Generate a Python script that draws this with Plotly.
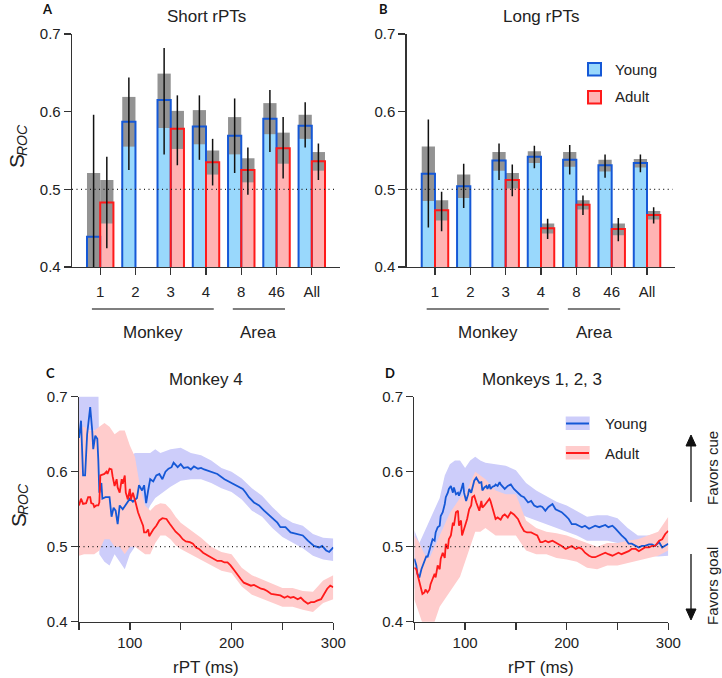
import plotly.graph_objects as go

W, H = 722, 678

# ---------------- DATA ----------------
CATS = ["1", "2", "3", "4", "8", "46", "All"]

# Panel A : Short rPTs
A_young_mean = [0.439, 0.587, 0.615, 0.581, 0.569, 0.591, 0.582]
A_young_sem_lo = [0.357, 0.555, 0.579, 0.558, 0.545, 0.571, 0.565]
A_young_sem_hi = [0.521, 0.619, 0.649, 0.602, 0.593, 0.611, 0.596]
A_young_ci_lo = [0.282, 0.525, 0.545, 0.538, 0.521, 0.548, 0.554]
A_young_ci_hi = [0.596, 0.644, 0.682, 0.621, 0.617, 0.628, 0.612]
A_adult_mean = [0.483, None, 0.578, 0.535, 0.525, 0.553, 0.536]
A_adult_sem_lo = [0.456, None, 0.552, 0.519, 0.509, 0.533, 0.524]
A_adult_sem_hi = [0.512, None, 0.601, 0.550, 0.540, 0.573, 0.548]
A_adult_ci_lo = [0.424, None, 0.531, 0.505, 0.493, 0.514, 0.512]
A_adult_ci_hi = [0.542, None, 0.621, 0.565, 0.554, 0.593, 0.559]

# Panel B : Long rPTs
B_young_mean = [0.520, 0.504, 0.537, 0.542, 0.538, 0.531, 0.534]
B_young_sem_lo = [0.485, 0.489, 0.524, 0.534, 0.529, 0.523, 0.528]
B_young_sem_hi = [0.555, 0.519, 0.548, 0.549, 0.548, 0.538, 0.539]
B_young_ci_lo = [0.451, 0.476, 0.512, 0.527, 0.519, 0.515, 0.522]
B_young_ci_hi = [0.590, 0.533, 0.559, 0.556, 0.557, 0.545, 0.545]
B_adult_mean = [0.473, None, 0.512, 0.450, 0.480, 0.449, 0.467]
B_adult_sem_lo = [0.460, None, 0.501, 0.443, 0.474, 0.441, 0.461]
B_adult_sem_hi = [0.486, None, 0.521, 0.456, 0.486, 0.456, 0.472]
B_adult_ci_lo = [0.446, None, 0.491, 0.436, 0.467, 0.433, 0.456]
B_adult_ci_hi = [0.497, None, 0.532, 0.462, 0.492, 0.463, 0.477]

# Panel C : Monkey 4 (rPT in ms, S_ROC)
C_young_x = [50, 52, 54, 56, 58, 60, 61, 63, 64, 66, 68, 69, 70, 72, 73, 76, 80, 82, 84, 86, 88, 90, 93, 96,
             100, 103, 107, 109, 112, 114, 116, 118, 120, 123, 126, 129, 132, 135, 138, 141, 143, 147, 150,
             153, 157, 160, 163, 167, 170, 173, 180, 186, 193, 199, 206, 211, 214, 217, 222, 227, 232, 239,
             245, 248, 253, 258, 265, 270, 275, 281, 286, 289, 293, 296, 300]
C_young_y = [0.645, 0.668, 0.595, 0.595, 0.650, 0.670, 0.686, 0.655, 0.630, 0.648, 0.644, 0.615, 0.572, 0.585,
             0.564, 0.566, 0.566, 0.540, 0.552, 0.548, 0.530, 0.555, 0.550, 0.556, 0.564, 0.560, 0.565, 0.582,
             0.575, 0.582, 0.558, 0.575, 0.590, 0.587, 0.595, 0.597, 0.590, 0.600, 0.604, 0.606, 0.612, 0.606,
             0.610, 0.605, 0.606, 0.603, 0.607, 0.604, 0.605, 0.603, 0.600, 0.597, 0.590, 0.586, 0.581, 0.577,
             0.572, 0.566, 0.559, 0.555, 0.548, 0.539, 0.532, 0.526, 0.526, 0.519, 0.517, 0.515, 0.508, 0.501,
             0.499, 0.501, 0.495, 0.493, 0.499]
C_adult_x = [50, 52, 54, 57, 59, 61, 62, 64, 65, 67, 69, 70, 71, 74, 75, 77, 78, 80, 82, 83, 85, 87, 88, 90,
             92, 93, 95, 96, 98, 100, 101, 103, 105, 106, 108, 110, 111, 113, 114, 116, 118, 119, 121, 123,
             126, 129, 132, 136, 139, 142, 145, 149, 152, 155, 159, 162, 165, 168, 172, 177, 180, 183, 186,
             190, 193, 196, 199, 203, 206, 209, 212, 216, 219, 222, 226, 229, 232, 235, 239, 242, 245, 248,
             252, 255, 258, 261, 265, 268, 271, 275, 278, 281, 284, 288, 291, 294, 297, 300]
C_adult_y = [0.555, 0.564, 0.557, 0.558, 0.566, 0.566, 0.558, 0.557, 0.553, 0.555, 0.555, 0.559, 0.595, 0.597,
             0.597, 0.600, 0.597, 0.604, 0.603, 0.594, 0.581, 0.590, 0.579, 0.572, 0.590, 0.584, 0.595, 0.572,
             0.563, 0.577, 0.563, 0.572, 0.563, 0.557, 0.546, 0.537, 0.535, 0.528, 0.519, 0.519, 0.523, 0.514,
             0.519, 0.523, 0.528, 0.535, 0.538, 0.537, 0.531, 0.526, 0.520, 0.515, 0.510, 0.507, 0.506, 0.504,
             0.499, 0.497, 0.492, 0.488, 0.486, 0.484, 0.481, 0.481, 0.479, 0.479, 0.475, 0.468, 0.462, 0.457,
             0.452, 0.450, 0.448, 0.449, 0.446, 0.444, 0.443, 0.441, 0.437, 0.436, 0.435, 0.435, 0.432, 0.434,
             0.432, 0.433, 0.430, 0.432, 0.428, 0.424, 0.426, 0.426, 0.428, 0.430, 0.437, 0.444, 0.448, 0.446]
C_young_band_x = [50, 60, 69, 70, 75, 80, 85, 90, 95, 100, 105, 110, 115, 120, 125, 130, 140, 150, 160, 170,
                  180, 190, 200, 210, 220, 230, 240, 250, 260, 270, 280, 290, 300]
C_young_band_lo = [0.655, 0.655, 0.655, 0.490, 0.480, 0.475, 0.490, 0.480, 0.470, 0.490, 0.500, 0.545, 0.540,
                   0.555, 0.565, 0.570, 0.580, 0.588, 0.590, 0.590, 0.585, 0.578, 0.573, 0.563, 0.548, 0.540,
                   0.525, 0.513, 0.505, 0.498, 0.488, 0.483, 0.481]
C_young_band_hi = [0.720, 0.720, 0.720, 0.600, 0.600, 0.600, 0.600, 0.610, 0.610, 0.620, 0.625, 0.625, 0.625,
                   0.625, 0.630, 0.625, 0.630, 0.632, 0.625, 0.622, 0.615, 0.605, 0.600, 0.591, 0.578, 0.568,
                   0.553, 0.540, 0.532, 0.528, 0.517, 0.512, 0.511]
C_adult_band_x = [50, 55, 60, 65, 70, 75, 80, 85, 90, 95, 100, 105, 110, 115, 120, 125, 130, 135, 140, 145,
                  150, 160, 170, 180, 190, 200, 210, 220, 230, 240, 250, 260, 270, 280, 290, 300]
C_adult_band_lo = [0.488, 0.490, 0.490, 0.490, 0.495, 0.510, 0.510, 0.500, 0.500, 0.490, 0.500, 0.500, 0.495,
                   0.490, 0.490, 0.505, 0.515, 0.515, 0.510, 0.502, 0.497, 0.490, 0.482, 0.475, 0.468, 0.465,
                   0.447, 0.436, 0.431, 0.425, 0.420, 0.420, 0.416, 0.413, 0.425, 0.430]
C_adult_band_hi = [0.660, 0.660, 0.655, 0.655, 0.660, 0.665, 0.660, 0.650, 0.655, 0.655, 0.635, 0.620, 0.580,
                   0.555, 0.548, 0.555, 0.558, 0.557, 0.550, 0.540, 0.532, 0.522, 0.512, 0.500, 0.493, 0.490,
                   0.472, 0.462, 0.456, 0.450, 0.445, 0.445, 0.441, 0.440, 0.455, 0.462]

# Panel D : Monkeys 1, 2, 3
D_young_x = [50, 52, 53, 55, 57, 58, 60, 62, 63, 65, 66, 68, 70, 71, 73, 75, 76, 78, 80, 81, 83, 84, 86, 88,
             89, 91, 93, 94, 96, 98, 99, 101, 103, 104, 106, 107, 109, 111, 112, 114, 116, 117, 119, 121, 122,
             124, 125, 127, 129, 130, 132, 134, 135, 139, 142, 145, 148, 152, 155, 158, 162, 165, 168, 171,
             174, 176, 179, 182, 186, 189, 192, 195, 199, 202, 205, 209, 212, 215, 218, 222, 225, 228, 232,
             235, 238, 241, 245, 248, 251, 254, 258, 261, 264, 268, 271, 274, 277, 281, 284, 287, 291, 294,
             297, 300]
D_young_y = [0.484, 0.475, 0.464, 0.459, 0.470, 0.474, 0.479, 0.488, 0.486, 0.497, 0.499, 0.510, 0.508, 0.519,
             0.526, 0.528, 0.541, 0.546, 0.557, 0.566, 0.572, 0.577, 0.581, 0.572, 0.579, 0.570, 0.572, 0.568,
             0.575, 0.585, 0.572, 0.561, 0.570, 0.577, 0.572, 0.579, 0.588, 0.592, 0.590, 0.585, 0.586, 0.575,
             0.579, 0.581, 0.577, 0.583, 0.577, 0.580, 0.581, 0.583, 0.581, 0.586, 0.583, 0.577, 0.581, 0.583,
             0.577, 0.572, 0.568, 0.566, 0.559, 0.561, 0.555, 0.553, 0.554, 0.553, 0.548, 0.553, 0.557, 0.550,
             0.548, 0.546, 0.541, 0.537, 0.530, 0.530, 0.528, 0.526, 0.528, 0.524, 0.526, 0.528, 0.526, 0.528,
             0.529, 0.526, 0.528, 0.524, 0.519, 0.515, 0.510, 0.504, 0.504, 0.501, 0.499, 0.501, 0.501, 0.503,
             0.503, 0.501, 0.506, 0.499, 0.502, 0.504]
D_adult_x = [50, 52, 53, 55, 57, 58, 60, 61, 63, 65, 66, 68, 70, 71, 73, 75, 76, 78, 80, 81, 83, 84, 86, 88,
             89, 91, 93, 94, 96, 97, 99, 101, 102, 104, 106, 107, 109, 111, 112, 114, 116, 117, 119, 120, 122,
             124, 125, 127, 129, 130, 132, 135, 137, 139, 142, 145, 148, 152, 155, 158, 161, 165, 168, 171,
             174, 176, 179, 182, 186, 189, 192, 195, 199, 202, 205, 209, 212, 215, 218, 222, 225, 228, 232,
             235, 238, 241, 245, 248, 251, 254, 258, 261, 264, 268, 271, 274, 277, 281, 284, 287, 291, 294,
             297, 300]
D_adult_y = [0.472, 0.470, 0.464, 0.452, 0.443, 0.437, 0.439, 0.443, 0.439, 0.443, 0.450, 0.457, 0.464, 0.459,
             0.475, 0.470, 0.484, 0.492, 0.485, 0.504, 0.497, 0.510, 0.515, 0.532, 0.528, 0.546, 0.548, 0.528,
             0.535, 0.515, 0.524, 0.531, 0.537, 0.550, 0.555, 0.566, 0.568, 0.559, 0.555, 0.548, 0.561, 0.552,
             0.555, 0.557, 0.561, 0.564, 0.561, 0.552, 0.544, 0.537, 0.539, 0.536, 0.541, 0.543, 0.539, 0.546,
             0.543, 0.537, 0.528, 0.521, 0.519, 0.519, 0.517, 0.515, 0.506, 0.506, 0.508, 0.506, 0.508, 0.506,
             0.504, 0.501, 0.497, 0.499, 0.501, 0.497, 0.499, 0.497, 0.492, 0.488, 0.486, 0.486, 0.488, 0.490,
             0.492, 0.490, 0.488, 0.490, 0.492, 0.490, 0.492, 0.494, 0.497, 0.497, 0.494, 0.497, 0.499, 0.499,
             0.501, 0.501, 0.508, 0.510, 0.517, 0.521]
D_young_band_x = [50, 55, 60, 65, 70, 75, 80, 85, 90, 95, 100, 105, 110, 115, 120, 130, 140, 150, 160, 170,
                  180, 190, 200, 210, 220, 230, 240, 250, 260, 270, 280, 290, 300]
D_young_band_lo = [0.445, 0.430, 0.440, 0.455, 0.470, 0.480, 0.520, 0.540, 0.545, 0.540, 0.535, 0.545, 0.560,
                   0.550, 0.550, 0.550, 0.552, 0.548, 0.540, 0.535, 0.530, 0.525, 0.520, 0.515, 0.508, 0.508,
                   0.508, 0.505, 0.495, 0.488, 0.488, 0.487, 0.488]
D_young_band_hi = [0.522, 0.505, 0.520, 0.535, 0.550, 0.565, 0.595, 0.610, 0.615, 0.615, 0.605, 0.615, 0.620,
                   0.615, 0.612, 0.610, 0.608, 0.602, 0.585, 0.575, 0.568, 0.560, 0.555, 0.548, 0.540, 0.542,
                   0.542, 0.538, 0.525, 0.515, 0.515, 0.518, 0.518]
D_adult_band_x = [50, 55, 60, 65, 70, 75, 80, 85, 90, 95, 100, 105, 110, 115, 120, 130, 140, 150, 160, 170,
                  180, 190, 200, 210, 220, 230, 240, 250, 260, 270, 280, 290, 300]
D_adult_band_lo = [0.430, 0.410, 0.390, 0.385, 0.400, 0.420, 0.430, 0.440, 0.450, 0.460, 0.480, 0.500, 0.520,
                   0.520, 0.525, 0.515, 0.515, 0.515, 0.495, 0.490, 0.490, 0.485, 0.483, 0.480, 0.472, 0.470,
                   0.475, 0.475, 0.478, 0.482, 0.485, 0.488, 0.495]
D_adult_band_hi = [0.515, 0.505, 0.490, 0.485, 0.500, 0.515, 0.530, 0.545, 0.555, 0.565, 0.570, 0.585, 0.600,
                   0.595, 0.590, 0.575, 0.570, 0.570, 0.535, 0.525, 0.520, 0.518, 0.515, 0.510, 0.505, 0.500,
                   0.505, 0.505, 0.508, 0.510, 0.515, 0.520, 0.540]

Y_TICKS = [0.4, 0.5, 0.6, 0.7]
Y_TICKTEXT = ["0.4", "0.5", "0.6", "0.7"]
T_TICKS = [100, 200, 300]
T_TICKTEXT = ["100", "200", "300"]
T_MINOR = [50, 150, 250]

# ---------------- STYLE ----------------
FONT = "Liberation Sans, Arial, sans-serif"
BLUE_LINE = "#1558d6"
RED_LINE = "#ff1a1a"
BLUE_FILL = "#99d8fc"
RED_FILL = "#ffb3b3"
GRAY = "#939393"
BLUE_BAND = "#cdcdfa"
RED_BAND = "#ffcccc"
AX = "#333333"


def px(x):
    return x / W


def py(y):
    return 1 - y / H


fig = go.Figure()

BAR_W = 0.375


def bar_panel(xa, ya, ym, ysl, ysh, ycl, ych, am, asl, ash, acl, ach):
    idx = list(range(len(CATS)))
    groups = [(ym, ysl, ysh, ycl, ych, -BAR_W, BLUE_FILL, BLUE_LINE),
              (am, asl, ash, acl, ach, 0.0, RED_FILL, RED_LINE)]
    for m, sl, sh, cl, ch, off, fc, lc in groups:
        fig.add_trace(go.Bar(x=idx, y=m, width=BAR_W, offset=off, marker=dict(color=fc, line=dict(width=0)),
                             xaxis=xa, yaxis=ya, showlegend=False, hoverinfo="skip"))
    for m, sl, sh, cl, ch, off, fc, lc in groups:
        length = [(h - l) if (h is not None and l is not None) else None for l, h in zip(sl, sh)]
        fig.add_trace(go.Bar(x=idx, y=length, base=sl, width=BAR_W, offset=off,
                             marker=dict(color=GRAY, line=dict(width=0)),
                             xaxis=xa, yaxis=ya, showlegend=False, hoverinfo="skip"))
    for m, sl, sh, cl, ch, off, fc, lc in groups:
        fig.add_trace(go.Bar(x=idx, y=m, width=BAR_W, offset=off,
                             marker=dict(color="rgba(0,0,0,0)", line=dict(width=2, color=lc)),
                             xaxis=xa, yaxis=ya, showlegend=False, hoverinfo="skip"))
    xs, ys = [], []
    for m, sl, sh, cl, ch, off, fc, lc in groups:
        for i in idx:
            if cl[i] is None:
                continue
            xc = i + off + BAR_W / 2
            xs += [xc, xc, None]
            ys += [cl[i], ch[i], None]
    fig.add_trace(go.Scatter(x=xs, y=ys, mode="lines", line=dict(color="#111111", width=1.5),
                             xaxis=xa, yaxis=ya, showlegend=False, hoverinfo="skip"))


bar_panel("x", "y", A_young_mean, A_young_sem_lo, A_young_sem_hi, A_young_ci_lo, A_young_ci_hi,
          A_adult_mean, A_adult_sem_lo, A_adult_sem_hi, A_adult_ci_lo, A_adult_ci_hi)
bar_panel("x2", "y2", B_young_mean, B_young_sem_lo, B_young_sem_hi, B_young_ci_lo, B_young_ci_hi,
          B_adult_mean, B_adult_sem_lo, B_adult_sem_hi, B_adult_ci_lo, B_adult_ci_hi)


def band(x, lo, hi):
    return list(x) + list(x)[::-1], list(hi) + list(lo)[::-1]


def ts_panel(xa, ya, yx, yy, ybx, ybl, ybh, ax_, ay_, abx, abl, abh):
    bx, by = band(ybx, ybl, ybh)
    fig.add_trace(go.Scatter(x=bx, y=by, fill="toself", fillcolor=BLUE_BAND, line=dict(width=0),
                             mode="lines", xaxis=xa, yaxis=ya, showlegend=False, hoverinfo="skip"))
    bx, by = band(abx, abl, abh)
    fig.add_trace(go.Scatter(x=bx, y=by, fill="toself", fillcolor=RED_BAND, line=dict(width=0),
                             mode="lines", xaxis=xa, yaxis=ya, showlegend=False, hoverinfo="skip"))
    fig.add_trace(go.Scatter(x=yx, y=yy, mode="lines", line=dict(color=BLUE_LINE, width=1.8),
                             xaxis=xa, yaxis=ya, showlegend=False, hoverinfo="skip"))
    fig.add_trace(go.Scatter(x=ax_, y=ay_, mode="lines", line=dict(color=RED_LINE, width=1.8),
                             xaxis=xa, yaxis=ya, showlegend=False, hoverinfo="skip"))


ts_panel("x3", "y3", C_young_x, C_young_y, C_young_band_x, C_young_band_lo, C_young_band_hi,
         C_adult_x, C_adult_y, C_adult_band_x, C_adult_band_lo, C_adult_band_hi)
ts_panel("x4", "y4", D_young_x, D_young_y, D_young_band_x, D_young_band_lo, D_young_band_hi,
         D_adult_x, D_adult_y, D_adult_band_x, D_adult_band_lo, D_adult_band_hi)

# ---------------- AXES ----------------
common = dict(showline=True, linecolor=AX, linewidth=1.3, ticks="outside", ticklen=7, tickcolor=AX,
              tickwidth=1.3, showgrid=False, zeroline=False, automargin=False,
              tickfont=dict(family=FONT, size=15, color="#222222"))

A_dom_x = [px(72), px(340)]
B_dom_x = [px(406.7), px(675.3)]
C_dom_x = [px(79), px(333.3)]
D_dom_x = [px(414.3), px(668.3)]
top_dom_y = [py(267), py(34)]
bot_dom_y = [py(621.7), py(396.7)]

cat_axis = dict(range=[-0.8, 6.8], tickmode="array", tickvals=list(range(len(CATS))), ticktext=CATS,
                ticklabelstandoff=4, **common)
val_axis = dict(range=[0.4, 0.7], tickmode="array", tickvals=Y_TICKS, ticktext=Y_TICKTEXT, **common)
t_axis = dict(range=[50, 300], tickmode="array", tickvals=T_TICKS, ticktext=T_TICKTEXT,
              minor=dict(tickmode="array", tickvals=T_MINOR, ticks="outside", ticklen=7, tickcolor=AX,
                         tickwidth=1.3, showgrid=False),
              **common)

fig.update_layout(
    width=W, height=H, autosize=False, margin=dict(l=0, r=0, t=0, b=0, pad=0),
    paper_bgcolor="white", plot_bgcolor="white", barmode="overlay", showlegend=False,
    hovermode=False,
    xaxis=dict(domain=A_dom_x, anchor="y", **cat_axis),
    yaxis=dict(domain=top_dom_y, anchor="x", **val_axis),
    xaxis2=dict(domain=B_dom_x, anchor="y2", **cat_axis),
    yaxis2=dict(domain=top_dom_y, anchor="x2", **val_axis),
    xaxis3=dict(domain=C_dom_x, anchor="y3", **t_axis),
    yaxis3=dict(domain=bot_dom_y, anchor="x3", **val_axis),
    xaxis4=dict(domain=D_dom_x, anchor="y4", **t_axis),
    yaxis4=dict(domain=bot_dom_y, anchor="x4", **val_axis),
)

shapes = []
for xr, yr in [("x", "y"), ("x2", "y2"), ("x3", "y3"), ("x4", "y4")]:
    shapes.append(dict(type="line", xref=xr + " domain", yref=yr, x0=0, x1=0.99, y0=0.5, y1=0.5,
                       line=dict(color="#222222", width=1.2, dash="1px,3.5px"), layer="above"))
for xr in ["x", "x2"]:
    shapes.append(dict(type="line", xref=xr, yref="paper", x0=-0.235, x1=3.22, y0=py(309), y1=py(309),
                       line=dict(color="#555555", width=1.3)))
    shapes.append(dict(type="line", xref=xr, yref="paper", x0=3.76, x1=5.24, y0=py(309), y1=py(309),
                       line=dict(color="#555555", width=1.3)))
shapes.append(dict(type="rect", xref="paper", yref="paper", x0=px(588), x1=px(601), y0=py(75.5), y1=py(63),
                   fillcolor=BLUE_FILL, line=dict(color=BLUE_LINE, width=2)))
shapes.append(dict(type="rect", xref="paper", yref="paper", x0=px(588), x1=px(601), y0=py(103.5), y1=py(91),
                   fillcolor=RED_FILL, line=dict(color=RED_LINE, width=2)))
shapes.append(dict(type="rect", xref="paper", yref="paper", x0=px(565.7), x1=px(589.7), y0=py(430), y1=py(416.5),
                   fillcolor=BLUE_BAND, line=dict(width=0)))
shapes.append(dict(type="line", xref="paper", yref="paper", x0=px(566), x1=px(589), y0=py(423.5), y1=py(423.5),
                   line=dict(color=BLUE_LINE, width=2)))
shapes.append(dict(type="rect", xref="paper", yref="paper", x0=px(565.7), x1=px(589.7), y0=py(459.5), y1=py(446),
                   fillcolor=RED_BAND, line=dict(width=0)))
shapes.append(dict(type="line", xref="paper", yref="paper", x0=px(566), x1=px(589), y0=py(453), y1=py(453),
                   line=dict(color=RED_LINE, width=2)))
ARROW_X = 691
for y_tail, y_neck, y_tip in [(502, 446, 435), (554, 609, 620)]:
    shapes.append(dict(type="line", xref="paper", yref="paper", x0=px(ARROW_X), x1=px(ARROW_X),
                       y0=py(y_tail), y1=py(y_neck), line=dict(color="#222222", width=1.4)))
    path = "M %f,%f L %f,%f L %f,%f Z" % (px(ARROW_X - 5), py(y_neck), px(ARROW_X + 5), py(y_neck),
                                          px(ARROW_X), py(y_tip))
    shapes.append(dict(type="path", xref="paper", yref="paper", path=path, fillcolor="#111111",
                       line=dict(color="#111111", width=1)))
fig.update_layout(shapes=shapes)

ann = []


def text(t, x, y, size=15, xanchor="center", angle=0, weight="normal", style="normal", family=FONT,
         color="#222222"):
    ann.append(dict(text=t, x=px(x), y=py(y), xref="paper", yref="paper",
                    showarrow=False, xanchor=xanchor, yanchor="middle", textangle=angle,
                    font=dict(family=family, size=size, color=color, weight=weight, style=style)))


text("Short rPTs", 206, 16, size=17)
text("Long rPTs", 541, 16, size=17)
text("Monkey 4", 206, 379, size=17)
text("Monkeys 1, 2, 3", 541.5, 379, size=17)
for lab, x, y in [("A", 47, 9), ("B", 383, 9), ("C", 50, 373), ("D", 390, 373)]:
    text(lab, x, y, size=13, weight="bold", family="Lato, DejaVu Sans, sans-serif", color="#111111")
# y titles: S with italic subscript ROC (rotated)
for sx, sy, rx, ry in [(17, 161, 22, 140), (18, 520, 23, 499)]:
    text("S", sx, sy, size=21, angle=-90)
    text("ROC", rx, ry, size=14, angle=-90, style="italic")
text("rPT (ms)", 206, 667, size=17)
text("rPT (ms)", 541, 667, size=17)
text("Monkey", 153, 332, size=17)
text("Area", 258, 332, size=17)
text("Monkey", 488, 332, size=17)
text("Area", 594, 332, size=17)
text("Young", 612.5, 69, size=15, xanchor="left")
text("Adult", 612.5, 97, size=15, xanchor="left")
text("Young", 602.5, 423.5, size=15, xanchor="left")
text("Adult", 602.5, 453, size=15, xanchor="left")
text("Favors cue", 712, 468, size=15, angle=-90)
text("Favors goal", 712, 586, size=15, angle=-90)
fig.update_layout(annotations=ann)

fig.write_html("out.html",
               config={"displayModeBar": False, "staticPlot": True},
               post_script="document.body.style.margin='0px';document.body.style.padding='0px';"
                           "document.body.style.overflow='hidden';")
